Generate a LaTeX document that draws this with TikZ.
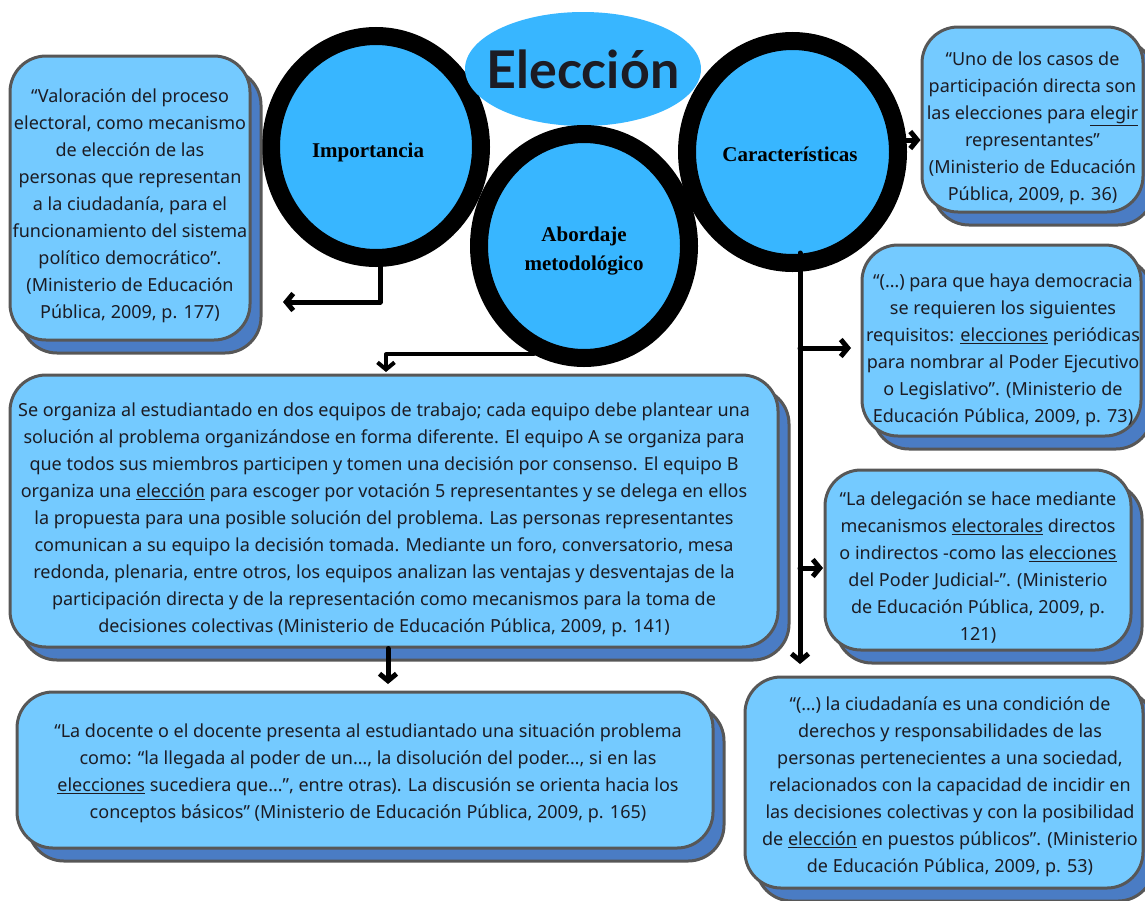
\documentclass[tikz,border=0pt]{standalone}
\usepackage{fontspec}
\setmainfont{Noto Sans}
\newfontfamily\circfont{Liberation Serif}
\newfontfamily\titlefont{Lato}
\usetikzlibrary{arrows.meta,shapes.geometric,shadows}
\definecolor{cblue}{HTML}{38B6FF}
\definecolor{bfill}{HTML}{74CAFF}
\definecolor{sblue}{HTML}{4A7CC4}
\definecolor{bline}{HTML}{575757}
\definecolor{tcol}{HTML}{1C1C24}
\begin{document}
\begin{tikzpicture}[x=1pt,y=-1pt,
  qbox/.style={draw=bline, line width=3pt, fill=bfill, rounded corners=36pt, inner sep=0pt,
    copy shadow={shadow xshift=11pt, shadow yshift=-13pt, fill=sblue, draw=bline, line width=3pt}},
  qtext/.style={align=center, inner sep=0pt, text=tcol, font=\fontsize{18}{27}\selectfont},
  ring/.style={ellipse, draw=black, line width=18pt, fill=cblue, inner sep=0pt},
  rtext/.style={align=center, inner sep=0pt, text=black, font=\circfont\bfseries\fontsize{21}{29}\selectfont},
  arr/.style={line width=5pt, line cap=round, line join=round, -{Straight Barb[length=7pt,width=17pt]}}]
\useasboundingbox (0,0) rectangle (1145,900);

% circles and title
\node[ring, minimum width=210pt, minimum height=222pt] (imp) at (376,147) {};
\node[rtext] (impt) at (368,152) {Importancia};
\node[ring, minimum width=211pt, minimum height=222pt] (car) at (792.5,152) {};
\node[rtext] (cart) at (790,154) {Características};
\node[ellipse, fill=cblue, minimum width=236pt, minimum height=114pt, inner sep=0pt] (titlebg) at (583,69) {};
\node[inner sep=0pt, font=\titlefont\bfseries\fontsize{52}{52}\selectfont, text=tcol] (title) at (583,69) {Elección};
\node[ring, minimum width=210pt, minimum height=224pt] (abo) at (584,246) {};
\node[rtext] (abot) at (584,251) {Abordaje\\metodológico};

% boxes
\node[qbox, minimum width=240pt, minimum height=284pt] (b1) at (130,198) {};
\node[qtext] (b1t) at (130,206)
{“Valoración del proceso\\electoral, como mecanismo\\de elección de las\\personas que representan\\a la ciudadanía, para el\\funcionamiento del sistema\\político democrático”.\\(Ministerio de Educación\\Pública, 2009, p. 177)};

\node[qbox, minimum width=221pt, minimum height=185pt] (b2) at (1032.5,119.5) {};
\node[qtext] (b2t) at (1032.5,128)
{“Uno de los casos de\\participación directa son\\las elecciones para \underline{elegir}\\representantes”\\(Ministerio de Educación\\Pública, 2009, p. 36)};

\node[qbox, minimum width=279pt, minimum height=191pt] (b3) at (1001.5,340.5) {};
\node[qtext] (b3t) at (1003,350)
{“(…) para que haya democracia\\se requieren los siguientes\\requisitos: \underline{elecciones} periódicas\\para nombrar al Poder Ejecutivo\\o Legislativo”. (Ministerio de\\Educación Pública, 2009, p. 73)};

\node[qbox, minimum width=306pt, minimum height=180pt] (b4) at (978,560) {};
\node[qtext] (b4t) at (978,568)
{“La delegación se hace mediante\\mecanismos \underline{electorales} directos\\o indirectos -como las \underline{elecciones}\\del Poder Judicial-”. (Ministerio\\de Educación Pública, 2009, p.\\121)};

\node[qbox, minimum width=398pt, minimum height=211pt] (b5) at (944,782.5) {};
\node[qtext] (b5t) at (950,787)
{“(…) la ciudadanía es una condición de\\derechos y responsabilidades de las\\personas pertenecientes a una sociedad,\\relacionados con la capacidad de incidir en\\las decisiones colectivas y con la posibilidad\\de \underline{elección} en puestos públicos”. (Ministerio\\de Educación Pública, 2009, p. 53)};

\node[qbox, minimum width=768pt, minimum height=272pt] (main) at (394,511) {};
\node[qtext] (maint) at (384,520)
{Se organiza al estudiantado en dos equipos de trabajo; cada equipo debe plantear una\\solución al problema organizándose en forma diferente. El equipo A se organiza para\\que todos sus miembros participen y tomen una decisión por consenso. El equipo B\\organiza una \underline{elección} para escoger por votación 5 representantes y se delega en ellos\\la propuesta para una posible solución del problema. Las personas representantes\\comunican a su equipo la decisión tomada. Mediante un foro, conversatorio, mesa\\redonda, plenaria, entre otros, los equipos analizan las ventajas y desventajas de la\\participación directa y de la representación como mecanismos para la toma de\\decisiones colectivas (Ministerio de Educación Pública, 2009, p. 141)};

\node[qbox, minimum width=696pt, minimum height=156pt] (bot) at (365,770) {};
\node[qtext] (bott) at (368,773)
{“La docente o el docente presenta al estudiantado una situación problema\\como: “la llegada al poder de un…, la disolución del poder…, si en las\\\underline{elecciones} sucediera que…”, entre otras). La discusión se orienta hacia los\\conceptos básicos” (Ministerio de Educación Pública, 2009, p. 165)};

% connector end points
\coordinate (t1) at (283,302);
\coordinate (t2) at (386,372);
\coordinate (cs) at (800,253);
\coordinate (ce) at (800,664);
\coordinate (t3) at (851,348);
\coordinate (t4) at (823,568);
\coordinate (t5) at (388,684);

% connectors
\draw[arr] (imp.south -| 380,0) |- (t1);
\draw[arr, line width=4pt] (abo.245) -| (t2);
\draw[arr] (car.6) -- (car.6 -| b2.west);
\draw[arr] (cs) -- (ce);
\draw[arr] (t3 -| cs) -- (t3);
\draw[arr] (t4 -| cs) -- (t4);
\draw[arr] (main.south -| t5) -- (t5);
\end{tikzpicture}
\end{document}
